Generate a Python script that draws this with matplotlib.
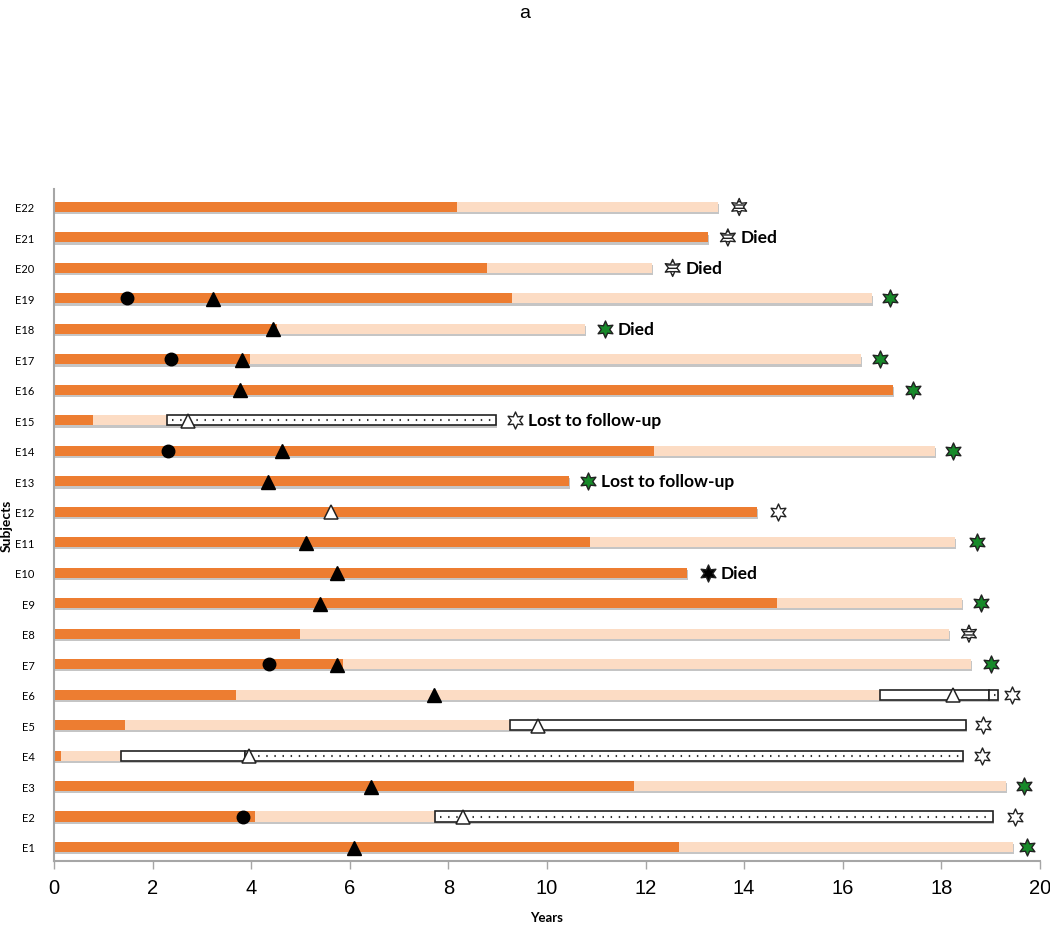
import matplotlib
matplotlib.use("Agg")
import matplotlib.pyplot as plt
import matplotlib.patheffects as pe
import numpy as np

# ---------------- data ----------------
subjects = [f"E{i}" for i in range(1, 23)]
# end of dark (orange) segment, end of light segment (years)
orange_end = [12.68, 4.08, 11.76, 0.14, 1.44, 3.69, 5.86, 4.99, 14.67, 12.84, 10.87,
              14.26, 10.45, 12.17, 0.79, 17.02, 3.98, 4.52, 9.29, 8.78, 13.27, 8.17]
light_end = [19.45, 7.73, 19.31, 1.36, 9.25, 16.75, 18.60, 18.15, 18.42, 12.84, 18.28,
             14.26, 10.45, 17.87, 2.29, 17.02, 16.37, 10.77, 16.60, 12.13, 13.27, 13.47]

# open (white) boxes after the light segment
box_subject = ["E2", "E4", "E4", "E5", "E6", "E6", "E15"]
box_start = [7.73, 1.36, 3.87, 9.25, 16.75, 18.96, 2.29]
box_end = [19.05, 3.87, 18.44, 18.50, 18.96, 19.15, 8.97]
box_dotted = [True, False, True, False, False, True, True]

# circles
circle_subject = ["E2", "E7", "E14", "E17", "E19"]
circle_x = [3.83, 4.36, 2.31, 2.37, 1.48]

# filled triangles
tri_subject = ["E1", "E3", "E6", "E7", "E9", "E10", "E11", "E13", "E14", "E16", "E17", "E18", "E19"]
tri_x = [6.09, 6.43, 7.71, 5.74, 5.40, 5.74, 5.11, 4.34, 4.62, 3.77, 3.81, 4.44, 3.23]

# open triangles
otri_subject = ["E2", "E4", "E5", "E6", "E12", "E15"]
otri_x = [8.30, 3.96, 9.81, 18.24, 5.62, 2.72]

# end-of-follow-up stars
star_x = [19.73, 19.49, 19.68, 18.83, 18.85, 19.43, 19.00, 18.56, 18.80, 13.27, 18.72,
          14.69, 10.83, 18.24, 9.35, 17.42, 16.76, 11.18, 16.96, 12.55, 13.67, 13.90]
star_kind = ["green", "white", "green", "white", "white", "white", "green", "striped",
             "green", "black", "green", "white", "green", "green", "white", "green",
             "green", "green", "green", "striped", "striped", "striped"]
star_label = ["", "", "", "", "", "", "", "", "", "Died", "", "", "Lost to follow-up", "",
              "Lost to follow-up", "", "", "Died", "", "Died", "Died", ""]

xticks = list(range(0, 21, 2))

# ---------------- style ----------------
ORANGE = "#ED7D31"
LIGHT = "#FCDCC4"
BAR_H = 0.33
shadow = [pe.SimplePatchShadow(offset=(0.8, -1.6), shadow_rgbFace="#7f7f7f", alpha=0.45), pe.Normal()]

fig = plt.figure(figsize=(10.5, 9.29), dpi=100)
ax = fig.add_axes([0.0514, 0.0721, 0.939, 0.7234])

ypos = {s: i + 1 for i, s in enumerate(subjects)}
y = np.arange(1, len(subjects) + 1)
orange_end = np.array(orange_end)
light_end = np.array(light_end)

ob = ax.barh(y, orange_end, left=0, height=BAR_H, color=ORANGE, zorder=2)
lw_ = light_end - orange_end
lb = ax.barh(y, np.where(lw_ > 0, lw_, 0), left=orange_end, height=BAR_H, color=LIGHT, zorder=2)
for p in list(ob) + list(lb):
    p.set_path_effects(shadow)

for s, a, b, d in zip(box_subject, box_start, box_end, box_dotted):
    yy = ypos[s]
    bb = ax.barh(yy, b - a, left=a, height=BAR_H, facecolor="white", edgecolor="#222222",
                 linewidth=1.2, zorder=3)
    for p in bb:
        p.set_path_effects(shadow)
    if d:
        ax.plot([a + 0.1, b - 0.05], [yy, yy], color="#333333", linewidth=1.5,
                linestyle=(0, (0.7, 3.2)), zorder=4)

ax.plot(circle_x, [ypos[s] for s in circle_subject], "o", color="black", markersize=9, zorder=5)
ax.plot(tri_x, [ypos[s] - 0.02 for s in tri_subject], "^", color="black", markersize=10, zorder=5)
ax.plot(otri_x, [ypos[s] - 0.02 for s in otri_subject], "^", markerfacecolor="white",
        markeredgecolor="#222222", markeredgewidth=1.1, markersize=10, zorder=5)

star_marker = (6, 1, 0)
face = {"green": "#178A2A", "white": "white", "black": "black", "striped": "white"}
for i, (sx, k, lab) in enumerate(zip(star_x, star_kind, star_label)):
    yy = i + 1
    if k == "striped":
        ax.scatter([sx], [yy], marker=star_marker, s=150, facecolor="white", edgecolor="#222222",
                   linewidth=1.0, hatch="-----", zorder=5)
    else:
        ax.scatter([sx], [yy], marker=star_marker, s=150, facecolor=face[k], edgecolor="#222222",
                   linewidth=1.0, zorder=5)
    if lab:
        ax.text(sx + 0.26, yy, lab, fontsize=12.5, fontweight="bold", family="Lato",
                va="center", ha="left", zorder=6)

ax.set_xlim(0, 20)
ax.set_ylim(0.54, 22.59)
ax.set_xticks(xticks)
ax.set_xticklabels([str(t) for t in xticks], fontsize=14.5, family="Liberation Sans")
ax.set_yticks(y)
ax.set_yticklabels(subjects, fontsize=8, family="Lato")
ax.tick_params(axis="y", length=0, pad=14)
ax.tick_params(axis="x", length=6, width=1, color="#A6A6A6", pad=6)
for side in ["top", "right"]:
    ax.spines[side].set_visible(False)
for side in ["left", "bottom"]:
    ax.spines[side].set_color("#A6A6A6")
    ax.spines[side].set_linewidth(1.5)

ax.set_xlabel("Years", fontsize=9.5, fontweight="bold", family="Lato", labelpad=10)
ax.set_ylabel("Subjects", fontsize=10, fontweight="bold", family="Lato", labelpad=2)

fig.text(0.5, 0.995, "a", ha="center", va="top", fontsize=14, family="Liberation Sans")

fig.savefig("out.png", dpi=100)
